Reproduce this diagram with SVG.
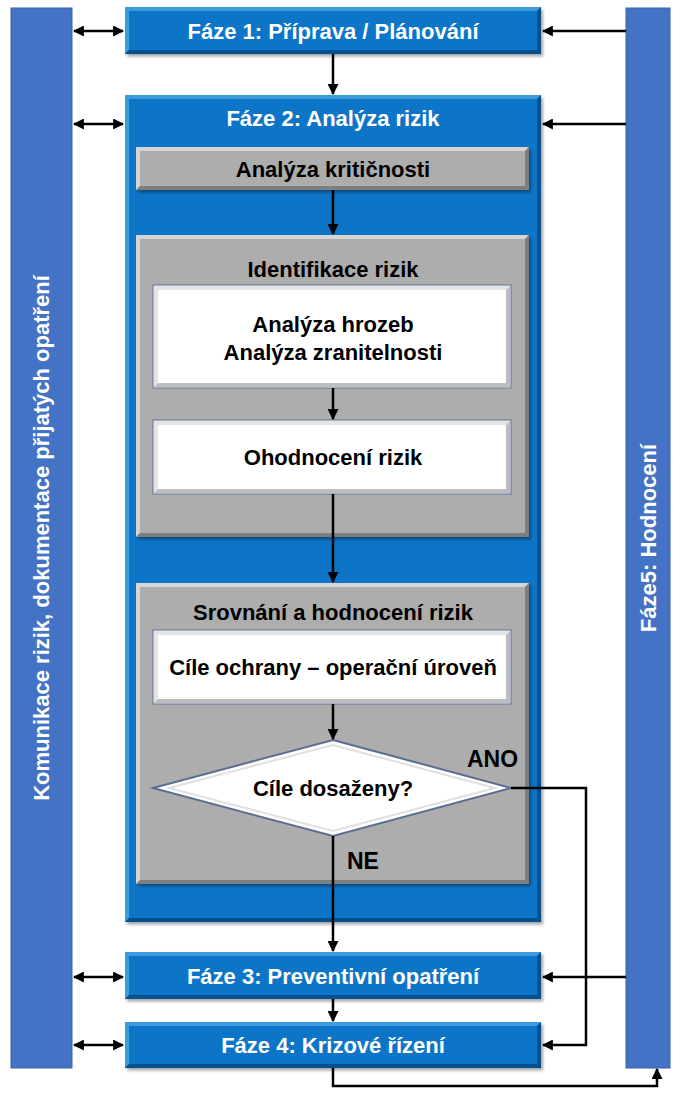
<svg xmlns="http://www.w3.org/2000/svg" width="676" height="1093" viewBox="0 0 676 1093">
<style>
.bar{fill:#4472C4;stroke:#3a63ad;stroke-width:1}
.blue{fill:#0A74C8}
.bhi{fill:#3F9BE0}
.bsh{fill:#03508E}
.gray{fill:#ADADAD}
.ghi{fill:#D6D6D6}
.gsh{fill:#7E7E7E}
.white{fill:#FFFFFF;stroke:#6C7E9C;stroke-width:1.2}
.whi{fill:#E4E4E4}
.wsh{fill:#BDBDBD}
.t{font-family:"Liberation Sans",Arial,sans-serif;font-weight:bold;font-size:22px;text-anchor:middle}
.tw{fill:#FFFFFF}
.tb{fill:#000000}
.lbl{font-family:"Liberation Sans",Arial,sans-serif;font-weight:bold;font-size:23px;fill:#000}
.c{fill:none;stroke:#000;stroke-width:2.5}
</style>
<defs>
<marker id="ah" viewBox="0 0 10 10" refX="9" refY="5" markerWidth="4.4" markerHeight="4.4" orient="auto-start-reverse" markerUnits="strokeWidth">
<path d="M0,0 L10,5 L0,10 Z" fill="#000"/>
</marker>
<filter id="sh" x="-5%" y="-5%" width="110%" height="115%">
<feDropShadow dx="2" dy="2.5" stdDeviation="1.5" flood-color="#000" flood-opacity="0.35"/>
</filter>
</defs>

<g id="bar-left">
<rect class="bar" x="11" y="8" width="61" height="1060"/>
<text class="t tw" x="41" y="545.5" transform="rotate(-90 41 538)">Komunikace rizik, dokumentace přijatých opatření</text>
</g>
<g id="bar-right">
<rect class="bar" x="626" y="8" width="44" height="1060"/>
<text class="t tw" x="648" y="545.5" transform="rotate(-90 648 538)">Fáze5: Hodnocení</text>
</g>

<g id="phase1">
<g filter="url(#sh)"><rect class="blue" x="125" y="7" width="416" height="47"/></g>
<path class="bhi" d="M125 7H541L537 11H129V50L125 54Z"/>
<path class="bsh" d="M541 7V54H125L129 50H537V11Z"/>
<text class="t tw" x="333" y="38.5">Fáze 1: Příprava / Plánování</text>
</g>

<g id="phase2">
<g filter="url(#sh)"><rect class="blue" x="125" y="95" width="416" height="827"/></g>
<path class="bhi" d="M125 95H541L537 99H129V918L125 922Z"/>
<path class="bsh" d="M541 95V922H125L129 918H537V99Z"/>
<text class="t tw" x="333" y="125.5">Fáze 2: Analýza rizik</text>
</g>

<g id="analyza-kriticnosti">
<g filter="url(#sh)"><rect class="gray" x="136" y="147" width="393" height="43"/></g>
<path class="ghi" d="M136 147H529L525 151H140V186L136 190Z"/>
<path class="gsh" d="M529 147V190H136L140 186H525V151Z"/>
<text class="t tb" x="333" y="176.5">Analýza kritičnosti</text>
</g>

<g id="identifikace-rizik">
<g filter="url(#sh)"><rect class="gray" x="136" y="235" width="393" height="302"/></g>
<path class="ghi" d="M136 235H529L525 239H140V533L136 537Z"/>
<path class="gsh" d="M529 235V537H136L140 533H525V239Z"/>
<text class="t tb" x="333" y="277">Identifikace rizik</text>
</g>

<g id="analyza-hrozeb">
<rect class="white" x="153" y="285" width="358" height="103"/>
<path class="whi" d="M154 286H510L506 290H158V383L154 387Z"/>
<path class="wsh" d="M510 286V387H154L158 383H506V290Z"/>
<text class="t tb" x="333" y="332">Analýza hrozeb</text>
<text class="t tb" x="333" y="360">Analýza zranitelnosti</text>
</g>

<g id="ohodnoceni-rizik">
<rect class="white" x="153" y="420" width="358" height="74"/>
<path class="whi" d="M154 421H510L506 425H158V489L154 493Z"/>
<path class="wsh" d="M510 421V493H154L158 489H506V425Z"/>
<text class="t tb" x="333" y="465">Ohodnocení rizik</text>
</g>

<g id="srovnani">
<g filter="url(#sh)"><rect class="gray" x="136" y="583" width="393" height="301"/></g>
<path class="ghi" d="M136 583H529L525 587H140V880L136 884Z"/>
<path class="gsh" d="M529 583V884H136L140 880H525V587Z"/>
<text class="t tb" x="333" y="620">Srovnání a hodnocení rizik</text>
</g>

<g id="cile-ochrany">
<rect class="white" x="153" y="630" width="358" height="74"/>
<path class="whi" d="M154 631H510L506 635H158V699L154 703Z"/>
<path class="wsh" d="M510 631V703H154L158 699H506V635Z"/>
<text class="t tb" x="333" y="675">Cíle ochrany – operační úroveň</text>
</g>

<g id="cile-dosazeny">
<polygon points="333,740 511,788 333,836 153,788" fill="#FFFFFF" stroke="#5A6E92" stroke-width="2"/>
<polygon points="333,745 495,788 333,831 169,788" fill="none" stroke="#E0E0E0" stroke-width="2"/>
<text class="t tb" x="333" y="796">Cíle dosaženy?</text>
</g>

<g id="phase3">
<g filter="url(#sh)"><rect class="blue" x="125" y="952" width="416" height="47"/></g>
<path class="bhi" d="M125 952H541L537 956H129V995L125 999Z"/>
<path class="bsh" d="M541 952V999H125L129 995H537V956Z"/>
<text class="t tw" x="333" y="983.5">Fáze 3: Preventivní opatření</text>
</g>

<g id="phase4">
<g filter="url(#sh)"><rect class="blue" x="125" y="1022" width="416" height="46"/></g>
<path class="bhi" d="M125 1022H541L537 1026H129V1064L125 1068Z"/>
<path class="bsh" d="M541 1022V1068H125L129 1064H537V1026Z"/>
<text class="t tw" x="333" y="1052.5">Fáze 4: Krizové řízení</text>
</g>

<g id="labels">
<text class="lbl" x="467" y="767">ANO</text>
<text class="lbl" x="347" y="869">NE</text>
</g>

<g id="connectors">
<line class="c" x1="74" y1="31" x2="123" y2="31" marker-start="url(#ah)" marker-end="url(#ah)"/>
<line class="c" x1="74" y1="124" x2="123" y2="124" marker-start="url(#ah)" marker-end="url(#ah)"/>
<line class="c" x1="74" y1="977" x2="123" y2="977" marker-start="url(#ah)" marker-end="url(#ah)"/>
<line class="c" x1="74" y1="1045" x2="123" y2="1045" marker-start="url(#ah)" marker-end="url(#ah)"/>
<line class="c" x1="626" y1="31" x2="543" y2="31" marker-end="url(#ah)"/>
<line class="c" x1="626" y1="124" x2="543" y2="124" marker-end="url(#ah)"/>
<line class="c" x1="626" y1="977" x2="543" y2="977" marker-end="url(#ah)"/>
<line class="c" x1="333" y1="54" x2="333" y2="94" marker-end="url(#ah)"/>
<line class="c" x1="333" y1="190" x2="333" y2="234" marker-end="url(#ah)"/>
<line class="c" x1="333" y1="388" x2="333" y2="419" marker-end="url(#ah)"/>
<line class="c" x1="333" y1="494" x2="333" y2="582" marker-end="url(#ah)"/>
<line class="c" x1="333" y1="704" x2="333" y2="739" marker-end="url(#ah)"/>
<line class="c" x1="333" y1="836" x2="333" y2="951" marker-end="url(#ah)"/>
<line class="c" x1="333" y1="999" x2="333" y2="1021" marker-end="url(#ah)"/>
<polyline class="c" points="511,788 586,788 586,1045 543,1045" marker-end="url(#ah)"/>
<polyline class="c" points="333,1068 333,1086 657,1086 657,1069" marker-end="url(#ah)"/>
</g>
</svg>
